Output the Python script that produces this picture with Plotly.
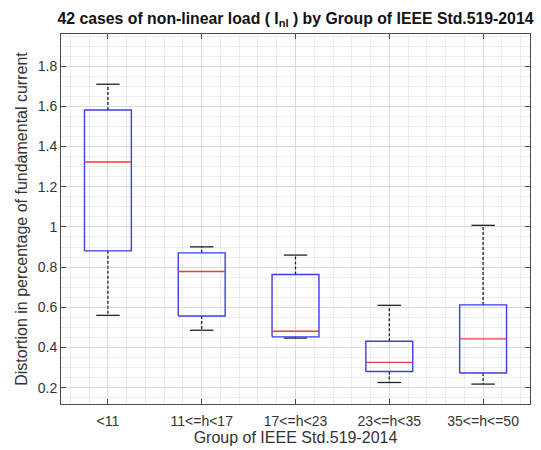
import plotly.graph_objects as go

# Harmonic group categories and their box statistics (% of fundamental current)
groups = ["<11", "11<=h<17", "17<=h<23", "23<=h<35", "35<=h<=50"]
upper_whisker = [1.710, 0.901, 0.860, 0.610, 1.008]
q3 = [1.582, 0.871, 0.763, 0.431, 0.612]
median = [1.323, 0.778, 0.481, 0.326, 0.443]
q1 = [0.881, 0.557, 0.453, 0.281, 0.273]
lower_whisker = [0.560, 0.486, 0.447, 0.226, 0.218]

y_ticks = [0.2, 0.4, 0.6, 0.8, 1.0, 1.2, 1.4, 1.6, 1.8]
y_tick_text = ["0.2", "0.4", "0.6", "0.8", "1", "1.2", "1.4", "1.6", "1.8"]

BOX_HALF = 0.25
CAP_HALF = 0.125
FONT = "Liberation Sans, Arial"

pos = list(range(1, len(groups) + 1))

box_x, box_y = [], []
med_x, med_y = [], []
wh_x, wh_y = [], []
cap_x, cap_y = [], []
for p, lo, a, m, b, hi in zip(pos, lower_whisker, q1, median, q3, upper_whisker):
    box_x += [p - BOX_HALF, p + BOX_HALF, p + BOX_HALF, p - BOX_HALF, p - BOX_HALF, None]
    box_y += [a, a, b, b, a, None]
    med_x += [p - BOX_HALF, p + BOX_HALF, None]
    med_y += [m, m, None]
    wh_x += [p, p, None, p, p, None]
    wh_y += [b, hi, None, a, lo, None]
    cap_x += [p - CAP_HALF, p + CAP_HALF, None, p - CAP_HALF, p + CAP_HALF, None]
    cap_y += [hi, hi, None, lo, lo, None]

fig = go.Figure()
fig.add_trace(go.Scatter(x=wh_x, y=wh_y, mode="lines",
                         line=dict(color="#222222", width=1.3, dash="3px,2px"),
                         hoverinfo="skip"))
fig.add_trace(go.Scatter(x=cap_x, y=cap_y, mode="lines",
                         line=dict(color="#222222", width=1.3), hoverinfo="skip"))
fig.add_trace(go.Scatter(x=box_x, y=box_y, mode="lines",
                         line=dict(color="#3c3ce8", width=1.4), hoverinfo="skip"))
fig.add_trace(go.Scatter(x=med_x, y=med_y, mode="lines",
                         line=dict(color="#ec3c3c", width=1.4), hoverinfo="skip"))

axis_common = dict(
    showline=True, linecolor="#4a4a4a", linewidth=1, mirror="ticks",
    ticks="inside", ticklen=5, tickcolor="#4a4a4a", tickwidth=1,
    showgrid=True, gridcolor="#dcdcdc", gridwidth=1, zeroline=False,
    tickfont=dict(family=FONT, size=14, color="#333333"),
    automargin=False,
)

fig.update_layout(
    width=541, height=450,
    margin=dict(l=61, r=11, t=34, b=46),
    paper_bgcolor="white", plot_bgcolor="white",
    showlegend=False,
    title=dict(
        text="<b>42 cases of non-linear load ( I<sub>nl</sub> ) by Group of IEEE Std.519-2014</b>",
        x=0.5, xref="paper", y=1 - 18 / 450, yref="container", yanchor="middle",
        font=dict(family=FONT, size=15.8, color="#111111"),
    ),
    xaxis=dict(
        **axis_common,
        range=[0.5, 5.5], tickvals=pos, ticktext=groups,
        ticklabelstandoff=4,
        minor=dict(dtick=0.2, tick0=0, showgrid=True, gridcolor="#eeeeee", ticks=""),
        title=dict(text="Group of IEEE Std.519-2014", standoff=4,
                   font=dict(family=FONT, size=16, color="#333333")),
    ),
    yaxis=dict(
        **axis_common,
        range=[0.119, 1.96], tickvals=y_ticks, ticktext=y_tick_text,
        minor=dict(dtick=0.05, tick0=0, showgrid=True, gridcolor="#eeeeee", ticks=""),
        title=dict(text="Distortion in percentage of fundamental current", standoff=6,
                   font=dict(family=FONT, size=16, color="#333333")),
    ),
)

fig.write_html("out.html")
